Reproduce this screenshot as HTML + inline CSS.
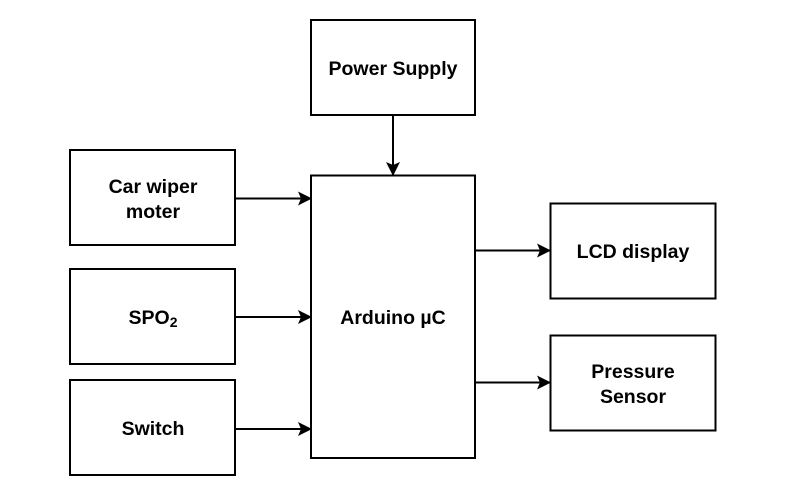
<!DOCTYPE html>
<html><head><style>
html,body{margin:0;padding:0;background:#fff;}
svg{display:block;}
text{font-family:"Liberation Sans",Arial,sans-serif;font-weight:bold;font-size:19.5px;fill:#000;}
</style></head><body>
<svg width="787" height="493" viewBox="0 0 787 493">
<defs><marker id="a" markerWidth="14" markerHeight="14" refX="13" refY="7" orient="auto" markerUnits="userSpaceOnUse"><path d="M0,0 L14,7 L0,14 L3,7 Z" fill="#000"/></marker></defs>
<g fill="none" stroke="#000" stroke-width="2">
<rect x="311" y="20" width="164" height="95"/>
<rect x="311" y="175.5" width="164" height="282.5"/>
<rect x="70" y="150" width="165" height="95"/>
<rect x="70" y="269" width="165" height="95"/>
<rect x="70" y="380" width="165" height="95"/>
<rect x="550.5" y="203.5" width="165" height="95"/>
<rect x="550.5" y="335.5" width="165" height="95"/>
<line x1="393" y1="115" x2="393" y2="175" marker-end="url(#a)"/>
<line x1="235" y1="198.5" x2="311" y2="198.5" marker-end="url(#a)"/>
<line x1="235" y1="317" x2="311" y2="317" marker-end="url(#a)"/>
<line x1="235" y1="429" x2="311" y2="429" marker-end="url(#a)"/>
<line x1="475" y1="250.5" x2="550" y2="250.5" marker-end="url(#a)"/>
<line x1="475" y1="382.5" x2="550" y2="382.5" marker-end="url(#a)"/>
</g>
<g text-anchor="middle">
<text x="393" y="75">Power Supply</text>
<text x="393" y="324">Arduino µC</text>
<text x="153" y="193">Car wiper</text>
<text x="153" y="218">moter</text>
<text x="153" y="324">SPO<tspan font-size="14" dy="3">2</tspan></text>
<text x="153" y="435">Switch</text>
<text x="633" y="258">LCD display</text>
<text x="633" y="378">Pressure</text>
<text x="633" y="403">Sensor</text>
</g>
</svg>
</body></html>
